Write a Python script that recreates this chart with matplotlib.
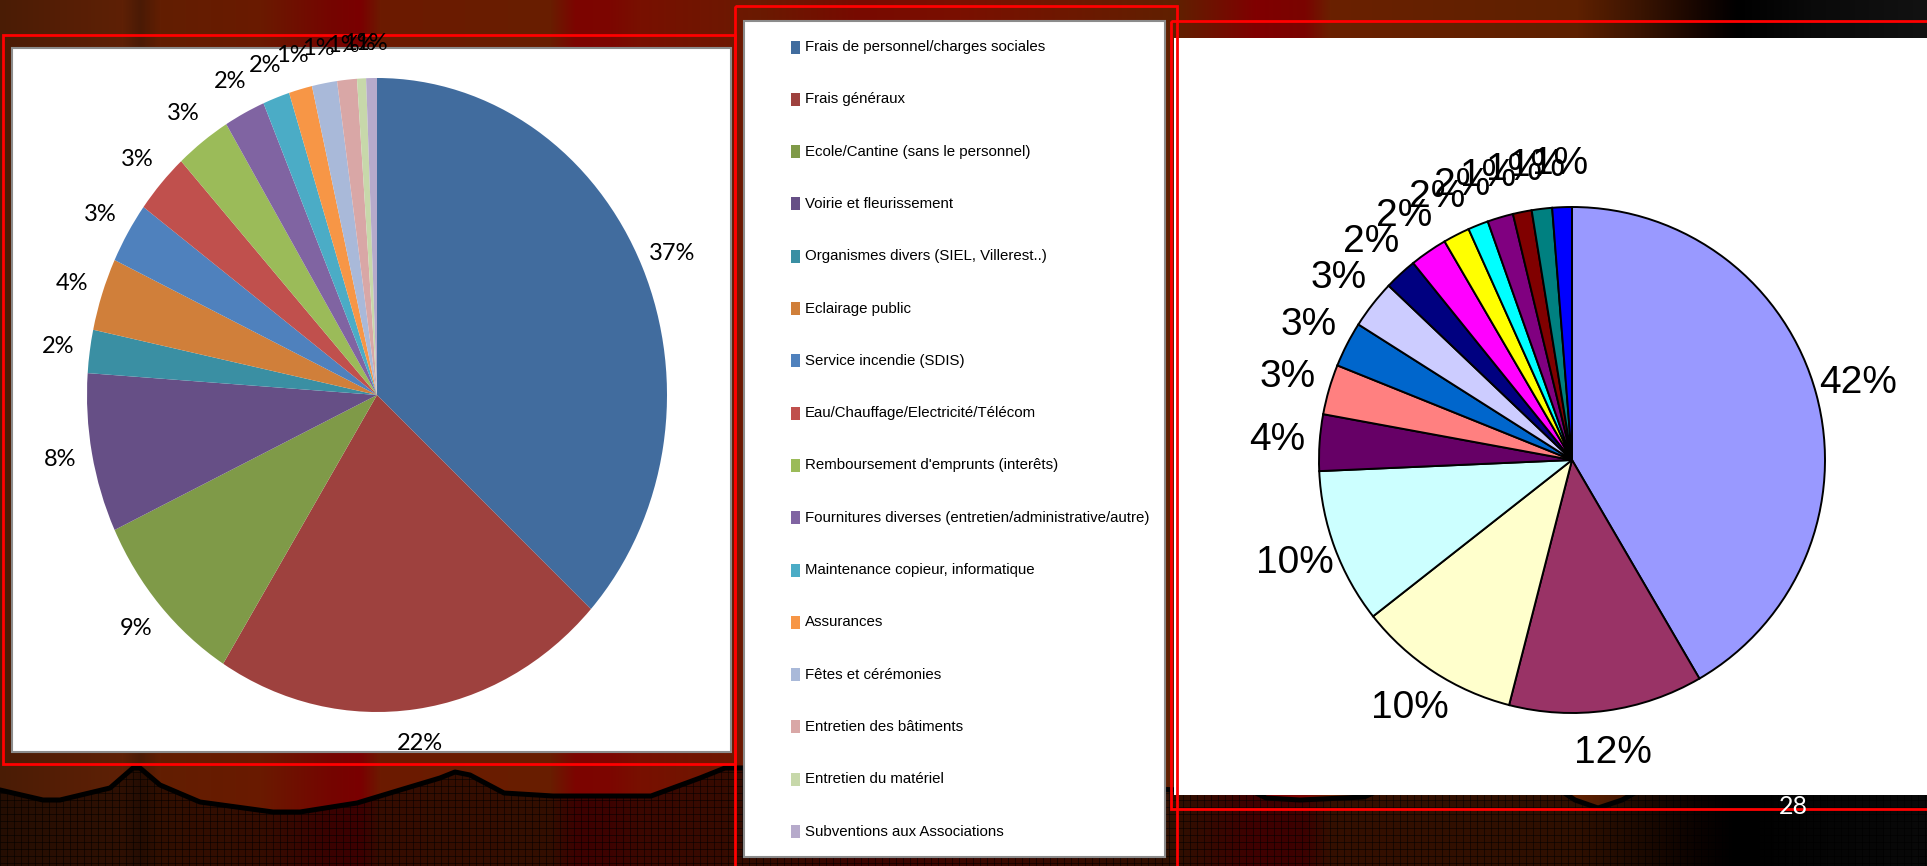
import matplotlib
matplotlib.use("Agg")
import matplotlib.pyplot as plt
import numpy as np
from matplotlib.patches import Rectangle, Polygon
from matplotlib.collections import LineCollection

W, H = 1927, 866

# left pie (budget breakdown) - legend categories
categories = [
    "Frais de personnel/charges sociales",
    "Frais généraux",
    "Ecole/Cantine (sans le personnel)",
    "Voirie et fleurissement",
    "Organismes divers (SIEL, Villerest..)",
    "Eclairage public",
    "Service incendie (SDIS)",
    "Eau/Chauffage/Electricité/Télécom",
    "Remboursement d'emprunts (interêts)",
    "Fournitures diverses (entretien/administrative/autre)",
    "Maintenance copieur, informatique",
    "Assurances",
    "Fêtes et cérémonies",
    "Entretien des bâtiments",
    "Entretien du matériel",
    "Subventions aux Associations",
]
left_values = [36.8, 22.1, 9.1, 8.1, 2.2, 3.7, 3.1, 3.1, 3.1, 2.3, 1.5, 1.3, 1.4, 1.1, 0.5, 0.6]
left_labels = ["37%", "22%", "9%", "8%", "2%", "4%", "3%", "3%", "3%", "2%", "2%",
               "1%", "1%", "1%", "1%", "1%"]
left_colors = ["#416C9E", "#9E413E", "#7F9A48", "#664F86", "#3A8FA3", "#D07F3A",
               "#4F81BD", "#C0504D", "#9BBB59", "#8064A2", "#4BACC6", "#F79646",
               "#A9B9D9", "#D9A7A6", "#C7D8AA", "#B6AACB"]

# right pie
right_values = [41.6, 12.4, 10.4, 9.9, 3.6, 3.2, 2.9, 3.1, 2.1, 2.4, 1.7, 1.3, 1.65, 1.2, 1.3, 1.25]
right_labels = ["42%", "12%", "10%", "10%", "4%", "3%", "3%", "3%", "2%", "2%", "2%", "2%",
                "1%", "1%", "1%", "1%"]
right_colors = ["#9999FF", "#993366", "#FFFFCC", "#CCFFFF", "#660066", "#FF8080",
                "#0066CC", "#CCCCFF", "#000080", "#FF00FF", "#FFFF00", "#00FFFF",
                "#800080", "#800000", "#008080", "#0000FF"]

page_number = "28"

# background colour profile of the slide (x position, rgb)
bg_stops = [(0, "#4a1c05"), (60, "#551e05"), (122, "#5e2005"), (140, "#4a1a05"),
            (160, "#621e02"), (260, "#6a1a00"), (330, "#750500"), (360, "#7a0000"),
            (380, "#6c1a00"), (550, "#681e00"), (575, "#7c0400"), (610, "#7c0600"),
            (640, "#781000"), (760, "#6a1a02"), (860, "#780a00"), (960, "#7a1000"),
            (1176, "#602000"), (1256, "#800000"), (1305, "#7a0400"), (1330, "#6a2000"),
            (1577, "#5e2000"), (1640, "#3a1402"), (1700, "#150500"), (1737, "#000000"),
            (1811, "#0a0a0a"), (1927, "#121212")]

wave_x = [0, 43, 60, 110, 133, 140, 160, 200, 273, 300, 357, 400, 440, 455, 470, 504,
          553, 651, 700, 725, 760, 1177, 1250, 1266, 1300, 1364, 1380, 1560, 1575, 1598,
          1622, 1640, 1927]
wave_y = [790, 800, 800, 788, 768, 768, 785, 802, 812, 812, 803, 790, 778, 772, 775, 793,
          796, 796, 778, 768, 768, 790, 790, 798, 800, 797, 790, 790, 800, 808,
          800, 790, 790]


def hex_rgb(h):
    return [int(h[i:i + 2], 16) / 255 for i in (1, 3, 5)]


fig = plt.figure(figsize=(W / 100, H / 100), dpi=100)
bg = fig.add_axes([0, 0, 1, 1])
bg.set_xlim(0, W)
bg.set_ylim(H, 0)
bg.axis("off")

xs = np.arange(W)
sx = [s[0] for s in bg_stops]
cols = np.array([hex_rgb(s[1]) for s in bg_stops])
prof = np.stack([np.interp(xs, sx, cols[:, k]) for k in range(3)], axis=1)
img = np.repeat(prof[None, :, :], H, axis=0)
bg.imshow(img, extent=(0, W, H, 0), aspect="auto", zorder=0)

# dark gridded band under the wavy line
poly_pts = list(zip(wave_x, wave_y)) + [(W, H), (0, H)]
lower = Polygon(poly_pts, closed=True, facecolor="black", alpha=0.5, edgecolor="none", zorder=1)
bg.add_patch(lower)
segs = [[(x, 760), (x, H)] for x in np.arange(0, W, 7)]
segs += [[(0, y), (W, y)] for y in np.arange(765, H, 7)]
grid = LineCollection(segs, colors="black", linewidths=0.6, alpha=0.6, zorder=2)
bg.add_collection(grid)
grid.set_clip_path(lower)
bg.plot(wave_x, wave_y, color="black", lw=3.6, zorder=3, solid_joinstyle="round")

# white panels
bg.add_patch(Rectangle((12, 48), 719, 704, facecolor="white", edgecolor="#8c8c8c", lw=1.5, zorder=4))
bg.add_patch(Rectangle((744, 21), 421, 836, facecolor="white", edgecolor="#8c8c8c", lw=1.5, zorder=4))
bg.add_patch(Rectangle((1174, 38), 760, 757, facecolor="white", edgecolor="none", zorder=4))

# red outlines
for x0, y0, w, h in [(3, 35, 732, 729), (735, 6, 442, 880), (1171, 21, 770, 788)]:
    bg.add_patch(Rectangle((x0, y0), w, h, facecolor="none", edgecolor="#ff0000", lw=2, zorder=6))

# legend of the left pie
for i, (name, c) in enumerate(zip(categories, left_colors)):
    y = 47 + i * 52.3
    bg.add_patch(Rectangle((791, y - 6.5), 9, 13, facecolor=c, edgecolor="none", zorder=5))
    bg.text(805, y, name, va="center", ha="left", fontsize=10.8, color="black", zorder=5,
            family=["Liberation Sans", "DejaVu Sans"])

bg.text(1793, 806, page_number, color="white", fontsize=18, ha="center", va="center",
        family=["Lato", "DejaVu Sans"], zorder=7)

# left pie (slightly stretched vertically, as on the slide)
cx, cy, rx, ry = 377, 395, 290, 317
ax1 = fig.add_axes([(cx - rx) / W, (H - cy - ry) / H, 2 * rx / W, 2 * ry / H])
ax1.pie(left_values, labels=left_labels, colors=left_colors, startangle=90, counterclock=False,
        labeldistance=1.11, wedgeprops=dict(edgecolor="none"),
        textprops=dict(ha="center", va="center", fontsize=17, family=["Lato", "DejaVu Sans"]))
ax1.set_aspect("auto")
ax1.set_xlim(-1, 1)
ax1.set_ylim(-1, 1)
ax1.axis("off")

# right pie
cx, cy, r = 1572, 460, 253
ax2 = fig.add_axes([(cx - r) / W, (H - cy - r) / H, 2 * r / W, 2 * r / H])
ax2.pie(right_values, labels=right_labels, colors=right_colors, startangle=90, counterclock=False,
        labeldistance=1.17, wedgeprops=dict(edgecolor="black", linewidth=1.4),
        textprops=dict(ha="center", va="center", fontsize=28, family=["Liberation Sans", "DejaVu Sans"]))
ax2.set_aspect("auto")
ax2.set_xlim(-1, 1)
ax2.set_ylim(-1, 1)
ax2.axis("off")

fig.savefig("out.png", dpi=100)
